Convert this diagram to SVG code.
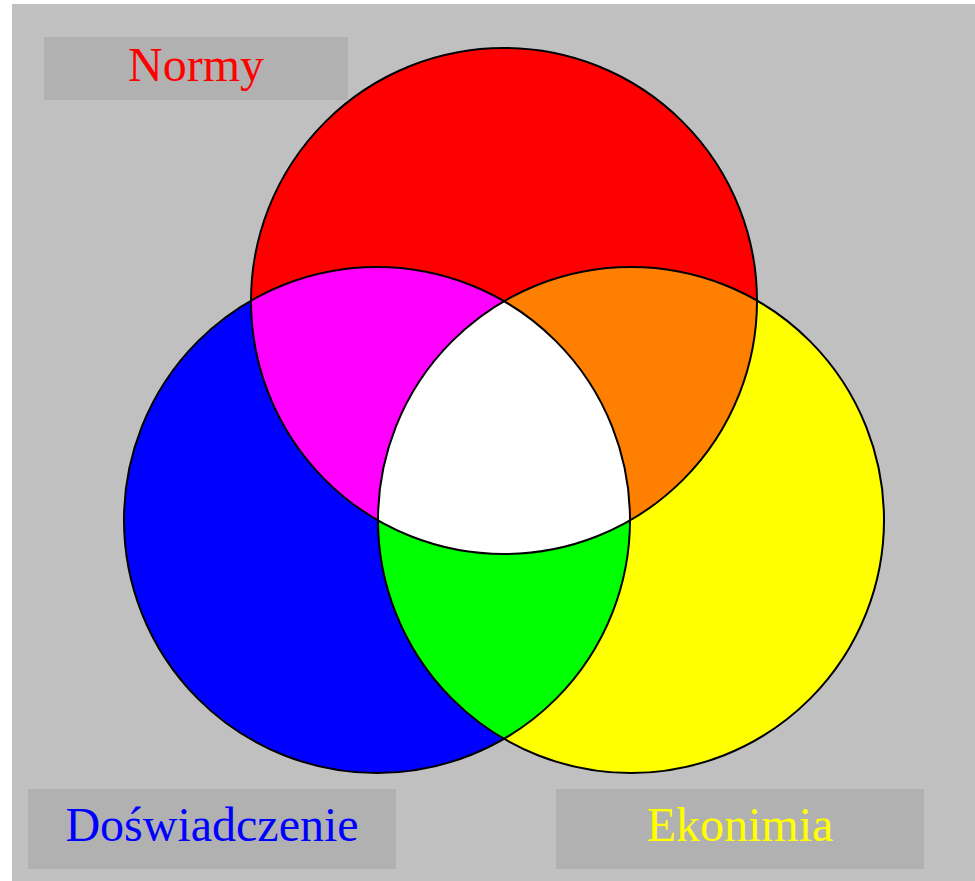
<svg xmlns="http://www.w3.org/2000/svg" width="975" height="881" viewBox="0 0 975 881">
<style>
.box{fill:#b1b1b1}
.lbl{font-family:"Liberation Serif","Times New Roman",serif;font-size:48px;text-anchor:middle}
.ol{fill:none;stroke:#000;stroke-width:2}
</style>
<defs>
<circle id="cR" cx="504" cy="301" r="253"/>
<circle id="cB" cx="377" cy="520" r="253"/>
<circle id="cY" cx="631" cy="520" r="253"/>
<clipPath id="clipR"><use href="#cR"/></clipPath>
<clipPath id="clipB"><use href="#cB"/></clipPath>
<clipPath id="clipY"><use href="#cY"/></clipPath>
</defs>
<rect x="12" y="4" width="963" height="877" fill="#c0c0c0"/>
<g id="labels">
<g id="label-normy"><rect class="box" x="44" y="37" width="304" height="63"/><text class="lbl" x="196" y="81" fill="#ff0000">Normy</text></g>
<g id="label-doswiadczenie"><rect class="box" x="28" y="789" width="368" height="80"/><text class="lbl" x="212" y="841" fill="#0000ff">Doświadczenie</text></g>
<g id="label-ekonimia"><rect class="box" x="556" y="789" width="368" height="80"/><text class="lbl" x="740" y="841" fill="#ffff00">Ekonimia</text></g>
</g>
<g id="circles">
<g id="normy"><use href="#cR" fill="#ff0000"/></g>
<g id="doswiadczenie"><use href="#cB" fill="#0000ff"/></g>
<g id="ekonimia"><use href="#cY" fill="#ffff00"/></g>
<g id="normy-doswiadczenie" clip-path="url(#clipR)"><use href="#cB" fill="#ff00ff"/></g>
<g id="normy-ekonimia" clip-path="url(#clipR)"><use href="#cY" fill="#ff8000"/></g>
<g id="doswiadczenie-ekonimia" clip-path="url(#clipB)"><use href="#cY" fill="#00ff00"/></g>
<g id="all" clip-path="url(#clipR)"><g clip-path="url(#clipB)"><use href="#cY" fill="#ffffff"/></g></g>
</g>
<g id="outlines">
<use href="#cR" class="ol"/>
<use href="#cB" class="ol"/>
<use href="#cY" class="ol"/>
</g>
</svg>
